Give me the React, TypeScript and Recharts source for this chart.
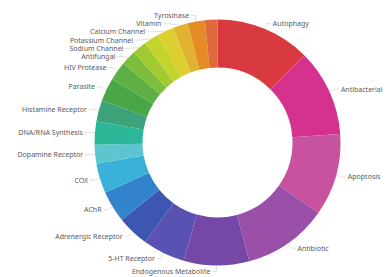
import { PieChart, Pie, Cell } from "recharts";

const names = [
  "Autophagy",
  "Antibacterial",
  "Apoptosis",
  "Antibiotic",
  "Endogenous Metabolite",
  "5-HT Receptor",
  "Adrenergic Receptor",
  "AChR",
  "COX",
  "Dopamine Receptor",
  "DNA/RNA Synthesis",
  "Histamine Receptor",
  "Parasite",
  "HIV Protease",
  "Antifungal",
  "Sodium Channel",
  "Potassium Channel",
  "Calcium Channel",
  "Vitamin",
  "Tyrosinase",
  "Others",
];

const values = [45, 41, 39, 40, 31, 20, 15, 15, 14, 9, 11, 10, 11, 9, 7, 7, 7, 8, 7, 8, 6];

const colors = [
  "#d83a40",
  "#d5318f",
  "#c8529f",
  "#9a4fa9",
  "#7548a8",
  "#5a52b2",
  "#3c56b2",
  "#3382cc",
  "#39b1da",
  "#5cc5cf",
  "#2cb898",
  "#3ca37b",
  "#48a647",
  "#5eb044",
  "#7cbe3b",
  "#a0ca30",
  "#c4d42e",
  "#dccf30",
  "#e1b22f",
  "#e48b25",
  "#e0683c",
];

// slices whose label is not shown (too small / overlapping)
const hiddenLabels = ["Others"];

const CX = 217.5;
const CY = 142.5;
const INNER = 75;
const OUTER = 123;
const LABEL_R = 129;
const LABEL_GAP = 8.2;

const data = names.map((name, i) => ({ name, value: values[i] }));

// push overlapping labels down, per side
function layoutLabels() {
  const total = values.reduce((a, b) => a + b, 0);
  let acc = 0;
  const items = values.map((v, i) => {
    const theta = ((acc + v / 2) / total) * 2 * Math.PI;
    acc += v;
    return { i, y: CY - LABEL_R * Math.cos(theta), right: Math.sin(theta) >= 0 };
  });
  const ys: number[] = [];
  for (const side of [true, false]) {
    const list = items
      .filter((it) => it.right === side && !hiddenLabels.includes(names[it.i]))
      .sort((a, b) => a.y - b.y);
    let prev = -Infinity;
    for (const it of list) {
      const y = Math.max(it.y, prev + LABEL_GAP);
      ys[it.i] = y;
      prev = y;
    }
  }
  return ys;
}

const labelY = layoutLabels();

const renderLabel = (props: any) => {
  const { index, midAngle } = props;
  const name = names[index];
  if (hiddenLabels.includes(name)) return <g key={`l-${index}`} />;
  const cx = typeof props.cx === "number" ? props.cx : CX;
  const cy = typeof props.cy === "number" ? props.cy : CY;
  const r = typeof props.outerRadius === "number" ? props.outerRadius : OUTER;
  const rad = (-midAngle * Math.PI) / 180;
  const sx = cx + r * Math.cos(rad);
  const sy = cy + r * Math.sin(rad);
  const right = Math.cos(rad) >= 0;
  const y = labelY[index];
  const dy = y - cy;
  const dx = Math.sqrt(Math.max(0, LABEL_R * LABEL_R - dy * dy));
  const ex = right ? cx + dx : cx - dx;
  const lx = right ? ex + 4 : ex - 4;
  return (
    <g key={`l-${index}`}>
      <polyline
        points={`${sx},${sy} ${ex},${y} ${lx},${y}`}
        fill="none"
        stroke="#d0d0d0"
        strokeWidth={0.7}
      />
      <text
        x={right ? lx + 2 : lx - 2}
        y={y}
        textAnchor={right ? "start" : "end"}
        dominantBaseline="central"
        fontSize={7}
        fontFamily="'Noto Sans', sans-serif"
        fill="#5a5a5a"
      >
        {name}
      </text>
    </g>
  );
};

export default function App() {
  return (
    <div style={{ position: "absolute", left: 0, top: 0, width: 386, height: 277, background: "#fff" }}>
      <PieChart width={386} height={277} margin={{ top: 0, right: 0, bottom: 0, left: 0 }}>
        <Pie
          data={data}
          dataKey="value"
          nameKey="name"
          cx={CX}
          cy={CY}
          innerRadius={INNER}
          outerRadius={OUTER}
          startAngle={90}
          endAngle={-270}
          stroke="none"
          label={renderLabel}
          labelLine={false}
          isAnimationActive={false}
        >
          {data.map((d, i) => (
            <Cell key={d.name} fill={colors[i]} />
          ))}
        </Pie>
      </PieChart>
    </div>
  );
}
